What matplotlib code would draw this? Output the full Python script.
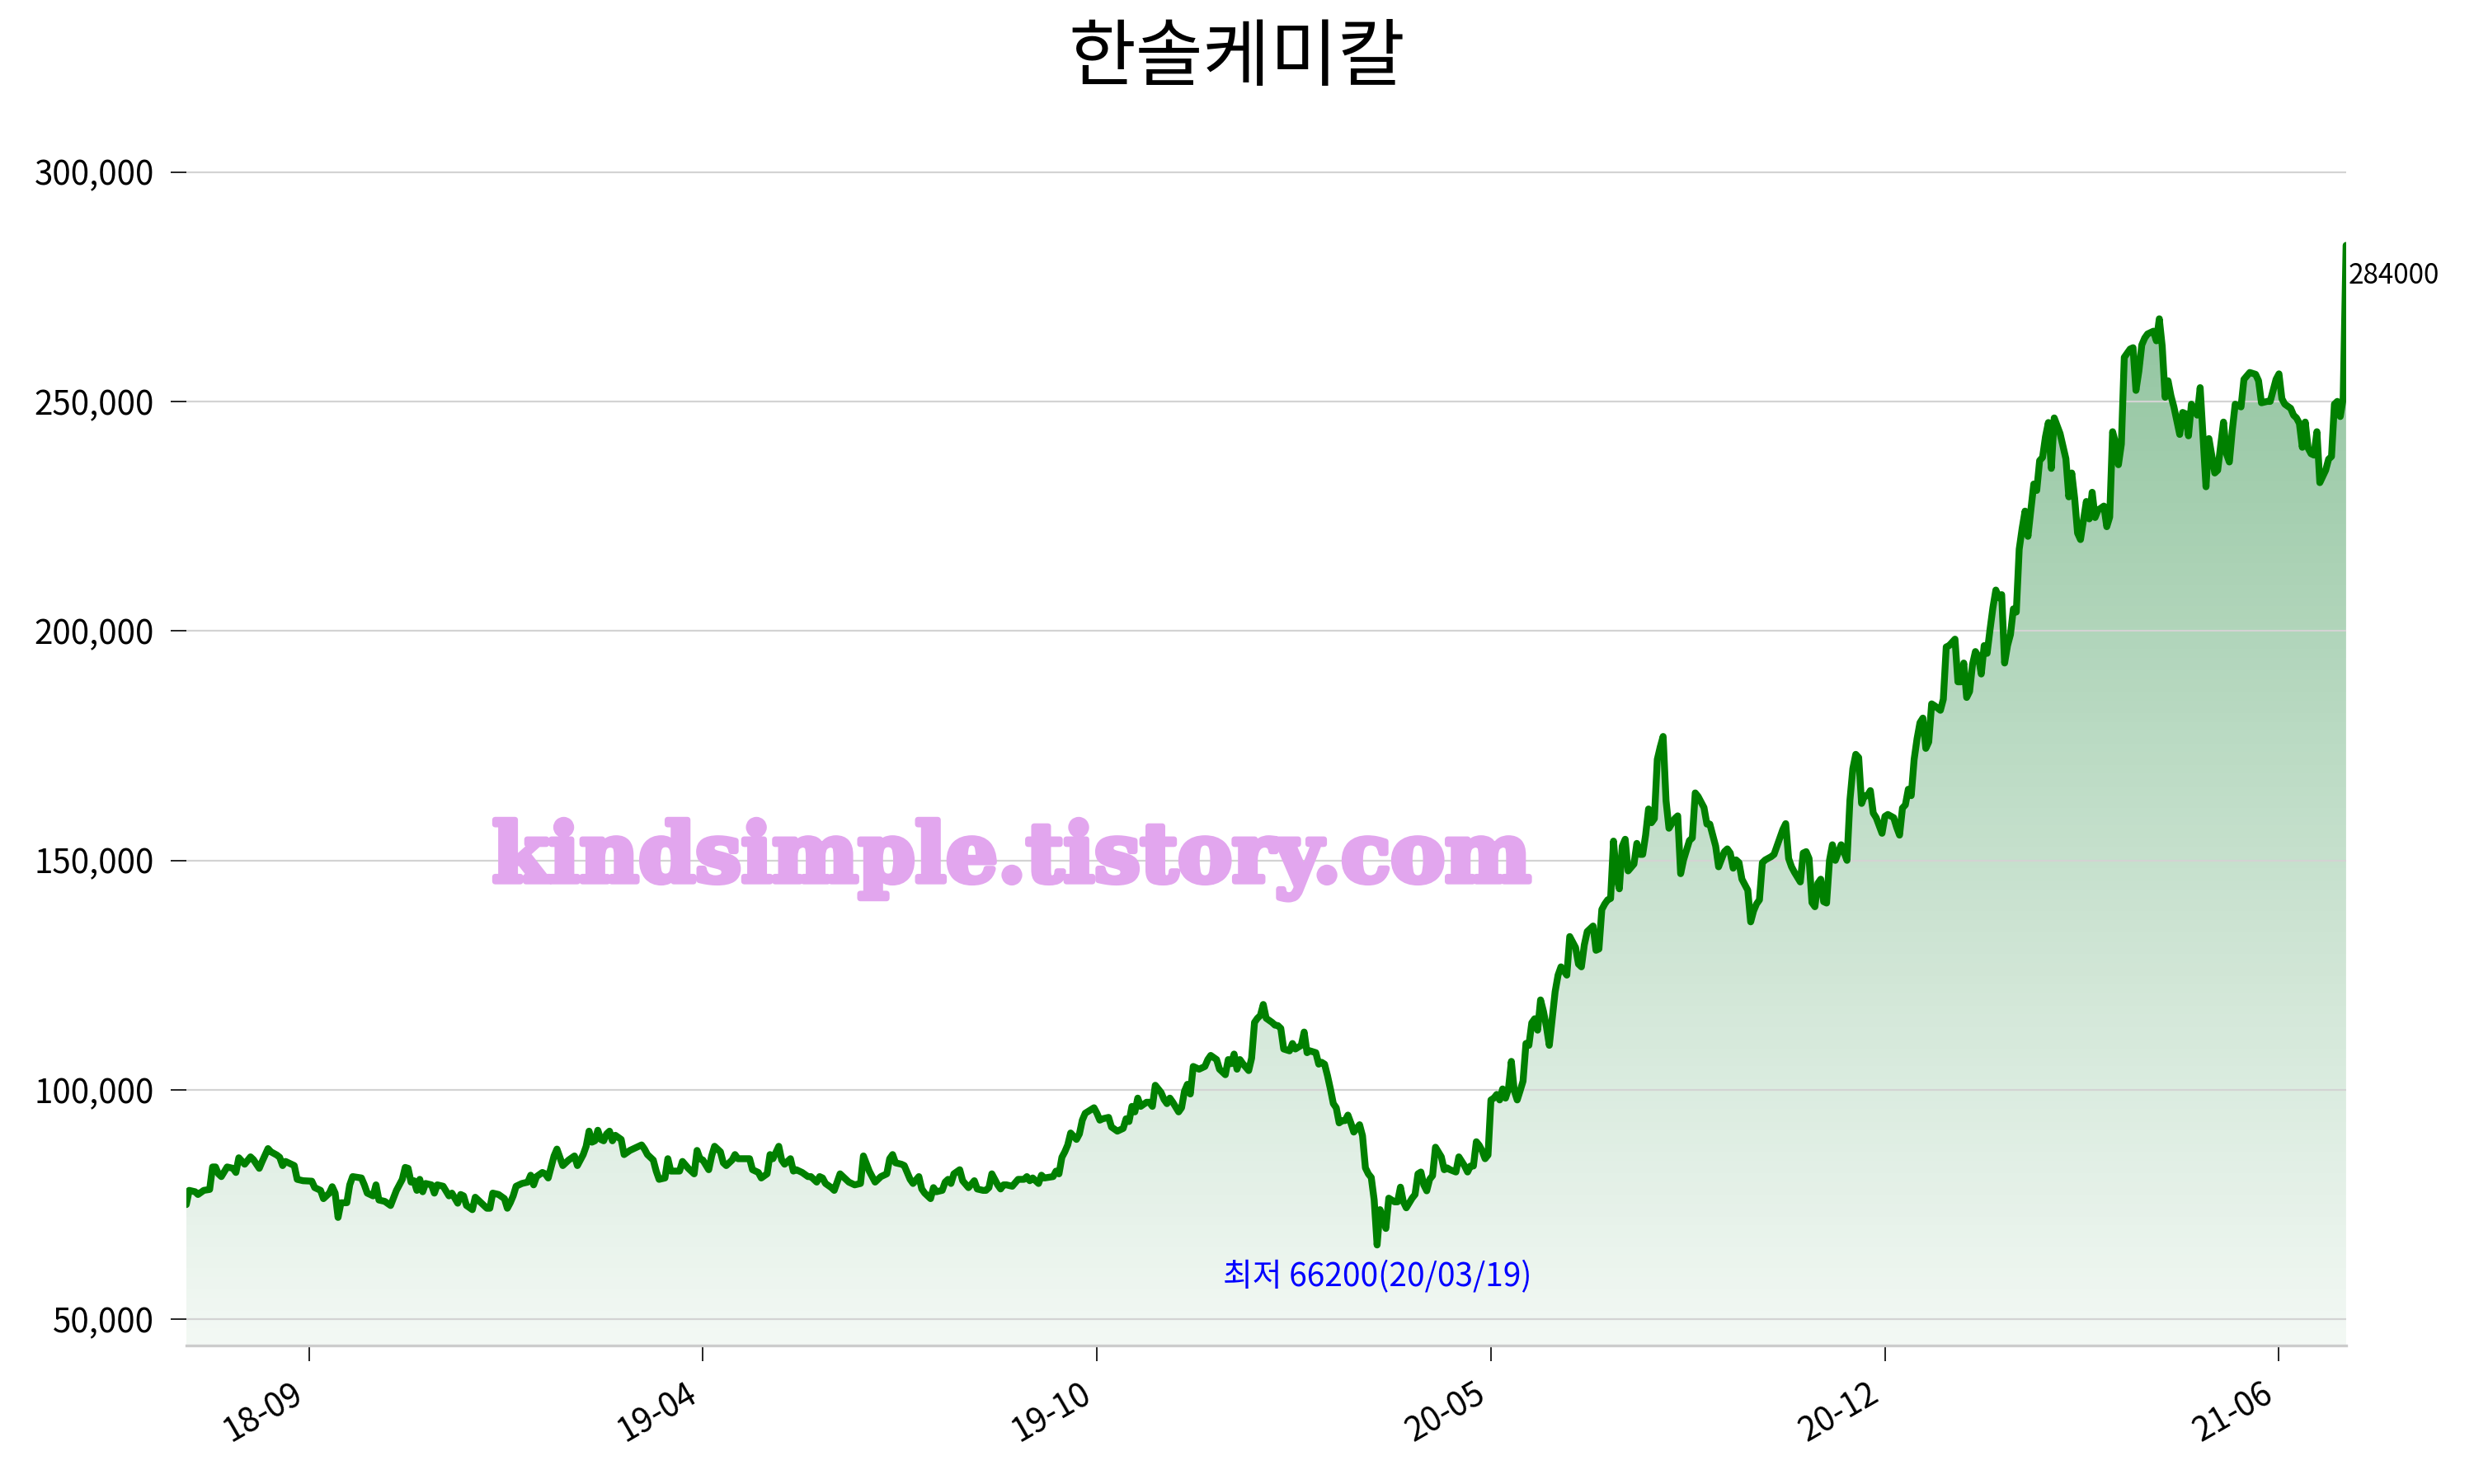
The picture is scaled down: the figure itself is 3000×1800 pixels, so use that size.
"""Hansol Chemical closing price chart (matplotlib, Agg backend)."""
import matplotlib

matplotlib.use("Agg")
import matplotlib.colors as mcolors  # noqa: E402
import matplotlib.patheffects as pe  # noqa: E402
import matplotlib.pyplot as plt  # noqa: E402
import numpy as np  # noqa: E402
from matplotlib.ticker import FuncFormatter  # noqa: E402

plt.rcParams["font.family"] = ["Noto Sans CJK KR", "DejaVu Sans"]

TITLE = "한솔케미칼"
WATERMARK = "kindsimple.tistory.com"

# trading-day index and closing price (KRW)
days = [
    0, 1, 3, 4, 6, 8, 9, 10, 11, 12, 14, 16, 17, 18, 20, 22, 23, 25, 26, 28,
    29, 31, 32, 33, 34, 37, 38, 40, 43, 44, 46, 47, 49, 50, 51, 52, 53, 55, 56, 57,
    60, 61, 62, 64, 65, 66, 68, 70, 72, 74, 75, 76, 77, 78, 79, 80, 81, 82, 84, 85,
    86, 88, 90, 91, 93, 94, 95, 96, 98, 99, 101, 103, 104, 105, 107, 109, 110, 111, 112, 113,
    115, 117, 118, 119, 120, 122, 123, 124, 126, 127, 129, 131, 133, 134, 136, 137, 138, 139, 140, 141,
    142, 143, 144, 145, 146, 147, 149, 150, 152, 154, 156, 157, 158, 160, 161, 162, 164, 165, 166, 168,
    169, 170, 172, 174, 175, 176, 177, 179, 180, 181, 183, 184, 185, 187, 188, 189, 191, 193, 194, 196,
    197, 199, 200, 201, 203, 204, 205, 207, 208, 209, 211, 213, 214, 216, 217, 218, 219, 221, 222, 224,
    225, 227, 229, 231, 232, 234, 236, 238, 240, 241, 242, 243, 245, 246, 248, 249, 251, 252, 253, 255,
    256, 257, 259, 260, 261, 262, 263, 265, 266, 268, 270, 271, 273, 274, 275, 276, 278, 279, 280, 281,
    283, 285, 287, 288, 289, 290, 292, 293, 294, 297, 298, 299, 300, 301, 302, 303, 305, 306, 307, 308,
    311, 312, 313, 314, 316, 317, 319, 321, 322, 323, 324, 325, 326, 327, 329, 330, 331, 332, 334, 335,
    336, 337, 338, 340, 341, 342, 343, 344, 345, 347, 349, 350, 351, 353, 354, 356, 357, 358, 359, 360,
    361, 362, 364, 365, 366, 367, 368, 369, 370, 372, 373, 374, 375, 376, 378, 379, 380, 382, 383, 384,
    385, 387, 388, 389, 390, 391, 392, 393, 394, 395, 396, 397, 398, 399, 400, 402, 403, 404, 405, 406,
    407, 408, 409, 410, 411, 412, 414, 415, 416, 417, 418, 420, 421, 422, 423, 424, 425, 426, 427, 428,
    430, 431, 432, 433, 435, 436, 438, 439, 440, 441, 442, 443, 444, 445, 446, 447, 448, 449, 450, 451,
    452, 453, 454, 455, 456, 457, 458, 459, 460, 461, 462, 463, 464, 465, 466, 467, 469, 470, 471, 473,
    474, 476, 477, 478, 479, 480, 482, 483, 484, 485, 486, 487, 488, 489, 490, 491, 492, 493, 494, 496,
    497, 498, 499, 500, 501, 502, 503, 504, 505, 506, 507, 508, 510, 511, 512, 513, 515, 516, 517, 518,
    520, 521, 522, 523, 524, 525, 527, 528, 529, 530, 531, 532, 533, 535, 536, 537, 538, 539, 540, 541,
    543, 544, 545, 547, 548, 549, 550, 551, 553, 554, 555, 556, 557, 558, 559, 560, 561, 562, 563, 564,
    565, 567, 569, 570, 571, 572, 573, 574, 575, 576, 577, 578, 579, 580, 581, 582, 583, 585, 586, 587,
    588, 589, 590, 591, 592, 593, 594, 595, 596, 597, 598, 599, 601, 602, 603, 604, 606, 607, 608, 609,
    610, 611, 612, 613, 614, 615, 616, 617, 618, 619, 620, 621, 622, 623, 624, 625, 626, 627, 628, 629,
    630, 631, 632, 633, 634, 635, 636, 637, 638, 639, 640, 642, 644, 645, 646, 647, 648, 649, 651, 652,
    653, 654, 655, 657, 658, 659, 660, 661, 662, 663, 664, 666, 667, 668, 669, 670, 671, 672, 674, 675,
    676, 677, 678, 679, 680, 681, 683, 684, 685, 686, 687, 689, 690, 691, 692, 693, 695, 696, 698, 699,
    700, 701, 702, 704, 705, 707, 709, 710, 711, 713, 714, 716, 717, 718, 719, 721, 722, 723, 724, 725,
    726, 727, 728, 729, 730, 731, 733, 734, 735, 736, 737, 738, 739, 740,
]
prices = [
    75000, 78100, 77800, 77200, 78100, 78300, 83200, 83200, 81700, 81100, 83200, 82900, 82000, 85200, 83800, 85400, 84800, 82900, 84400, 87200,
    86500, 85800, 85300, 83500, 84400, 83500, 80500, 80200, 80100, 78700, 78100, 76300, 77500, 78900, 77500, 72200, 75400, 75400, 79300, 81100,
    80800, 79300, 77500, 76900, 79300, 76000, 75700, 74800, 78100, 80500, 83100, 82900, 79900, 80200, 78100, 80500, 77800, 79600, 79300, 77500,
    79300, 79000, 76900, 77500, 75300, 77200, 76900, 74800, 73900, 76600, 75400, 74200, 74200, 77500, 77200, 76300, 74200, 75400, 76900, 79000,
    79600, 79900, 81400, 79300, 81100, 82000, 81700, 80800, 85600, 87100, 83500, 84700, 85600, 83500, 85900, 87700, 91000, 88600, 88900, 91200,
    89200, 88900, 90400, 91000, 88900, 90100, 89200, 85900, 86800, 87400, 88000, 87100, 85900, 84700, 82300, 80500, 80800, 85000, 82300, 82300,
    82300, 84400, 82900, 81700, 86800, 85000, 84700, 82600, 85600, 87700, 86500, 84100, 83500, 84700, 85900, 85000, 85000, 85000, 82600, 82000,
    80800, 81700, 85900, 85000, 87700, 84700, 83800, 85000, 82300, 82600, 82000, 81100, 81100, 79900, 81100, 80800, 79600, 78700, 78100, 81700,
    81100, 79900, 79300, 79600, 85600, 82300, 79900, 81100, 81700, 85000, 85900, 84100, 83800, 83500, 80500, 79600, 81100, 78400, 77500, 76300,
    78700, 77800, 78100, 79900, 80500, 79600, 81700, 82600, 80200, 78700, 80200, 78400, 78100, 78100, 78700, 81700, 79300, 78400, 79300, 79300,
    79000, 80500, 80500, 81100, 80200, 80800, 79600, 81400, 80800, 81100, 82300, 81700, 85300, 86500, 88000, 90600, 89200, 90400, 93400, 94900,
    96100, 94900, 93400, 93700, 94000, 91900, 91000, 91600, 93700, 93100, 96400, 95200, 98200, 96400, 97300, 97300, 96400, 101000, 99400, 97900,
    97000, 98200, 97300, 95200, 96100, 99700, 101200, 99100, 105100, 104500, 105100, 106600, 107500, 106600, 104500, 103300, 106600, 105700, 107800, 104500,
    106600, 105700, 104200, 106900, 114700, 115600, 116200, 118600, 115600, 114700, 114100, 114000, 113400, 108900, 108500, 110100, 108900, 109700, 112600, 108100,
    108500, 108100, 105600, 106000, 105600, 103100, 100200, 97000, 96100, 92800, 93300, 93300, 94500, 92800, 90800, 92400, 90000, 83000, 81700, 80900,
    76000, 66200, 73900, 71900, 69800, 76400, 75600, 75600, 78800, 75600, 74300, 76400, 77200, 81700, 82100, 79300, 78000, 80500, 81300, 87500,
    85400, 82600, 83000, 82600, 82100, 85400, 83400, 82100, 83400, 83400, 88700, 87900, 86700, 85000, 85800, 97800, 98200, 99000, 97800, 100200,
    98200, 100200, 106200, 99800, 97800, 99800, 101900, 110100, 109700, 114600, 115500, 113000, 119600, 117100, 113800, 109700, 121400, 125000, 126800, 125000,
    133400, 131000, 127400, 126800, 131600, 134500, 135700, 130400, 130700, 139300, 140500, 141400, 141700, 154200, 146500, 143800, 153100, 154600, 147700, 149200,
    153700, 151300, 151300, 155500, 161200, 158200, 159100, 172000, 174700, 177000, 163000, 157000, 159100, 159700, 147100, 150100, 154300, 154900, 164700, 163900,
    161500, 157900, 157900, 155500, 153100, 148600, 151900, 152500, 151600, 148300, 150100, 149500, 145900, 143500, 136600, 139000, 140500, 141400, 149500, 150100,
    150800, 151300, 153100, 156700, 158000, 150400, 148600, 147400, 145300, 151600, 151900, 150400, 140800, 139900, 145000, 145900, 141000, 140700, 150000, 153400,
    150000, 153400, 150000, 163100, 170000, 173100, 172400, 162400, 164100, 164100, 165200, 160300, 159300, 157600, 155900, 159600, 160000, 159300, 157200, 155500,
    161400, 162100, 165500, 164100, 172000, 176500, 180000, 181000, 174400, 175800, 184100, 183700, 182700, 185100, 196500, 196800, 198200, 188900, 188900, 193000,
    185500, 186800, 192700, 195500, 194400, 190600, 196800, 195100, 200300, 205100, 208900, 207200, 207900, 193000, 196800, 199200, 204800, 204100, 217800, 222300,
    226100, 220600, 226400, 232000, 230600, 237100, 237800, 242300, 245400, 235400, 246400, 243000, 237500, 229200, 234400, 228900, 221300, 219900, 228200, 224400,
    230200, 224700, 226300, 227200, 222700, 224800, 243400, 241000, 236200, 240700, 259600, 261400, 261700, 252400, 256600, 262300, 263800, 264700, 265300, 263200,
    268000, 262000, 250900, 254500, 251200, 248800, 242800, 247600, 247300, 242500, 249400, 247000, 253000, 242200, 231400, 241900, 234400, 235000, 245500, 238600,
    236800, 243700, 249400, 248800, 254800, 256300, 255900, 254500, 249700, 250000, 250000, 254800, 256000, 250600, 249400, 248500, 247000, 246400, 245200, 240000,
    245500, 239800, 238600, 238300, 243400, 232300, 235000, 237400, 238000, 249400, 250000, 246700, 250600, 284000,
]

tick_days = [42, 177, 312, 447, 582, 717]
tick_labels = ["18-09", "19-04", "19-10", "20-05", "20-12", "21-06"]
low_label = "최저 66200(20/03/19)"

days = np.array(days)
prices = np.array(prices)
y_bottom = prices.min() * 0.67
y_top = prices.max() * 1.1

fig = plt.figure(figsize=(15, 9), dpi=200)
ax = fig.add_axes([0.0753, 0.0935, 0.873, 0.829])

# gradient fill under the price line
poly = ax.fill_between(days, prices, y_bottom, facecolor="none", edgecolor="none")
rgba = np.zeros((256, 1, 4))
rgba[..., :3] = mcolors.to_rgb("#067a25")
rgba[..., 3] = np.linspace(0.05, 0.46, 256)[:, None]
im = ax.imshow(rgba, aspect="auto", origin="lower", zorder=0.5,
               extent=[days[0], days[-1], y_bottom, prices.max()])
im.set_clip_path(poly.get_paths()[0], transform=ax.transData)

ax.plot(days, prices, color="green", lw=3, zorder=3, solid_capstyle="round")

i_low = int(prices.argmin())
ax.annotate(low_label, (days[i_low], prices[i_low]), xytext=(0, -7),
            textcoords="offset points", ha="center", va="top",
            color="blue", fontsize=14)
ax.annotate(f"{prices[-1]}", (days[-1], prices[-1]), xytext=(1, -7),
            textcoords="offset points", ha="left", va="top", fontsize=12)

ax.set_xlim(days[0], days[-1])
ax.set_ylim(y_bottom, y_top)
ax.set_yticks(np.arange(50000, 300001, 50000))
ax.yaxis.set_major_formatter(FuncFormatter(lambda v, _: f"{v:,.0f}"))
ax.set_xticks(tick_days)
ax.set_xticklabels(tick_labels, rotation=30, ha="right")
ax.tick_params(axis="both", labelsize=14.5, length=7, width=0.6, pad=7)
ax.yaxis.grid(True, color="#d3d3d3", lw=0.8)
for side in ("top", "right", "left"):
    ax.spines[side].set_visible(False)
ax.spines["bottom"].set_color("#cccccc")
ax.spines["bottom"].set_linewidth(1.2)

fig.text(0.5, 0.96, TITLE, ha="center", va="center", fontsize=32)
wm = fig.text(0.409, 0.421, WATERMARK, ha="center", va="center", fontsize=35.5,
              fontfamily="DejaVu Serif", fontweight="bold", color="#e2a6ee", zorder=10)
wm.set_path_effects([pe.withStroke(linewidth=2.5, foreground="#e2a6ee")])

fig.savefig("out.png")
plt.close(fig)
